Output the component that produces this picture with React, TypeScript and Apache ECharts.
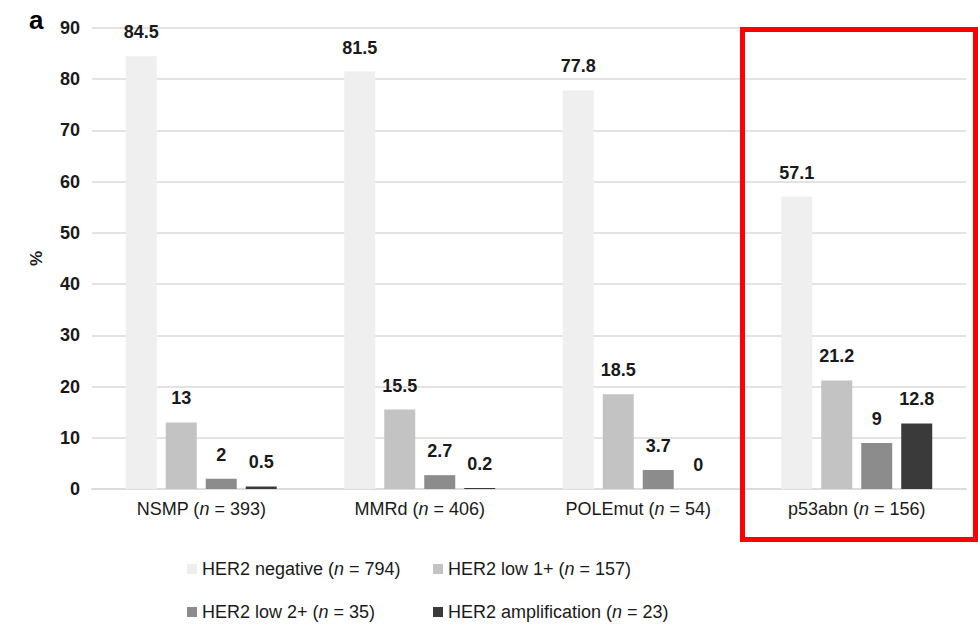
import React, { useEffect, useRef } from "react";
import * as echarts from "echarts";

const categories = ["NSMP", "MMRd", "POLEmut", "p53abn"];
const categoryN = [393, 406, 54, 156];
const seriesNames = ["HER2 negative", "HER2 low 1+", "HER2 low 2+", "HER2 amplification"];
const seriesN = [794, 157, 35, 23];
const negative = [84.5, 81.5, 77.8, 57.1];
const low1 = [13, 15.5, 18.5, 21.2];
const low2 = [2, 2.7, 3.7, 9];
const amplification = [0.5, 0.2, 0, 12.8];
const yTicks = [0, 10, 20, 30, 40, 50, 60, 70, 80, 90];

const colors = ["#efefef", "#c3c3c3", "#8c8c8c", "#3a3a3a"];
const FONT = "Liberation Sans, Arial, sans-serif";
const TXT = "#1a1a1a";

export default function App() {
  const ref = useRef<HTMLDivElement>(null);
  useEffect(() => {
    if (!ref.current) return;
    const chart = echarts.init(ref.current, null, { renderer: "svg" });
    const values = [negative, low1, low2, amplification];
    const legendPos = [
      { left: 182, top: 555 },
      { left: 428, top: 555 },
      { left: 182, top: 598 },
      { left: 428, top: 598 },
    ];
    const rich = {
      i: { fontStyle: "italic", fontFamily: FONT, fontSize: 18, color: TXT },
    };
    chart.setOption({
      animation: false,
      backgroundColor: "#ffffff",
      grid: { left: 92, right: 12, top: 28, bottom: 139, containLabel: false },
      xAxis: {
        type: "category",
        data: categories.map((c, i) => `${c} ({i|n} = ${categoryN[i]})`),
        axisTick: { show: false },
        axisLine: { show: true, lineStyle: { color: "#dcdcdc", width: 2 } },
        axisLabel: {
          color: TXT,
          fontFamily: FONT,
          fontSize: 18,
          margin: 11,
          rich: { i: { ...rich.i } },
          formatter: (v: string) => v,
        },
      },
      yAxis: {
        type: "value",
        min: 0,
        max: yTicks[yTicks.length - 1],
        interval: 10,
        name: "%",
        nameLocation: "middle",
        nameRotate: 90,
        nameGap: 47,
        nameTextStyle: { color: TXT, fontFamily: FONT, fontSize: 17, fontWeight: "bold" },
        axisLine: { show: false },
        axisTick: { show: false },
        axisLabel: { color: TXT, fontFamily: FONT, fontSize: 18, fontWeight: "bold", margin: 12 },
        splitLine: { lineStyle: { color: "#e3e3e3", width: 2 } },
      },
      legend: seriesNames.map((name, i) => ({
        data: [name],
        left: legendPos[i].left,
        top: legendPos[i].top,
        icon: "rect",
        itemWidth: 10,
        itemHeight: 10,
        itemGap: 6,
        selectedMode: false,
        formatter: (n: string) => `${n} ({i|n} = ${seriesN[seriesNames.indexOf(n)]})`,
        textStyle: { color: TXT, fontFamily: FONT, fontSize: 18, rich },
      })),
      series: seriesNames.map((name, i) => ({
        name,
        type: "bar",
        data: values[i],
        barWidth: 31,
        barGap: "29%",
        itemStyle: { color: colors[i] },
        label: {
          show: true,
          position: "top",
          distance: 15,
          color: TXT,
          fontFamily: FONT,
          fontSize: 18,
          fontWeight: "bold",
        },
      })),
      graphic: [
        {
          type: "text",
          left: 29,
          top: 7,
          style: { text: "a", fill: "#000", font: `bold 26px ${FONT}` },
        },
        {
          type: "rect",
          shape: { x: 742.5, y: 29.5, width: 233, height: 510 },
          style: { fill: "none", stroke: "#ff0000", lineWidth: 5 },
          z: 100,
        },
      ],
    });
    return () => chart.dispose();
  }, []);
  return (
    <div
      ref={ref}
      style={{ position: "fixed", left: 0, top: 0, width: 978, height: 628, background: "#fff" }}
    />
  );
}
